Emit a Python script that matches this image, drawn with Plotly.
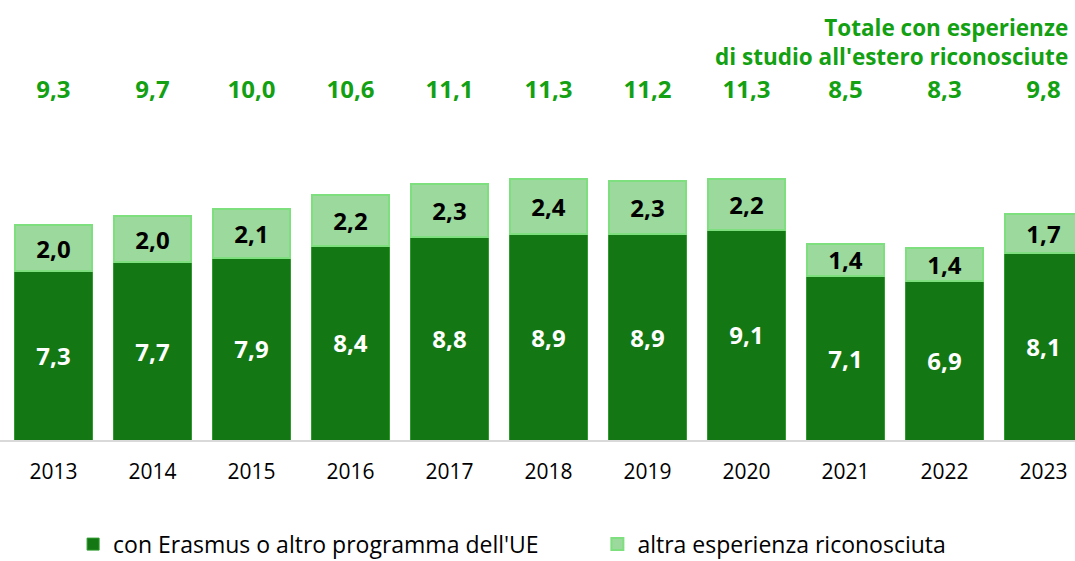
import plotly.graph_objects as go

years = ["2013", "2014", "2015", "2016", "2017", "2018", "2019", "2020", "2021", "2022", "2023"]
erasmus = [7.3, 7.7, 7.9, 8.4, 8.8, 8.9, 8.9, 9.1, 7.1, 6.9, 8.1]
altra = [2.0, 2.0, 2.1, 2.2, 2.3, 2.4, 2.3, 2.2, 1.4, 1.4, 1.7]
totale = [9.3, 9.7, 10.0, 10.6, 11.1, 11.3, 11.2, 11.3, 8.5, 8.3, 9.8]
legend_names = ["con Erasmus o altro programma dell'UE", "altra esperienza riconosciuta"]

FONT = "Open Sans"
GREEN_TXT = "#13a013"
PAD = "\u00a0" * 9

fig = go.Figure()
fig.add_trace(go.Bar(
    x=years, y=erasmus, name=legend_names[0] + PAD,
    marker=dict(color="#137813", line=dict(color="#2e9a2e", width=1)),
    texttemplate="%{y:.1f}", textposition="inside", insidetextanchor="middle",
    textfont=dict(family=FONT, size=24, color="white", weight="bold"),
    width=0.78, hoverinfo="skip",
))
fig.add_trace(go.Bar(
    x=years, y=altra, name=legend_names[1],
    marker=dict(color="#9cd99c", line=dict(color="#7ddf7d", width=2)),
    texttemplate="%{y:.1f}", textposition="inside", insidetextanchor="middle",
    textfont=dict(family=FONT, size=24, color="black", weight="bold"),
    width=0.78, hoverinfo="skip",
))
fig.add_trace(go.Scatter(
    x=years, y=[15.05] * len(years), mode="text",
    text=[f"{v:.1f}".replace(".", ",") for v in totale],
    textfont=dict(family=FONT, size=24, color=GREEN_TXT, weight="bold"),
    showlegend=False, hoverinfo="skip",
))

fig.add_annotation(
    x=1.0, y=1.0, xref="paper", yref="paper", xanchor="right", yanchor="top",
    text="Totale con esperienze<br>di studio all'estero riconosciute",
    showarrow=False, align="right",
    font=dict(family=FONT, size=22.5, color=GREEN_TXT, weight="bold"),
    xshift=-5, yshift=-10,
)

fig.update_layout(
    width=1075, height=561,
    margin=dict(l=0, r=0, t=0, b=121, autoexpand=False),
    barmode="stack",
    separators=",.",
    plot_bgcolor="white", paper_bgcolor="white",
    font=dict(family=FONT, size=21, color="black"),
    uniformtext=dict(mode="show", minsize=24),
    xaxis=dict(range=[-0.54, 10.318], showline=True, linecolor="#d9d9d9", linewidth=2,
               showgrid=False, ticks="", tickfont=dict(size=21), ticklabelstandoff=12,
               automargin=False),
    yaxis=dict(range=[0, 19.05], visible=False),
    legend=dict(orientation="h", x=0.068, y=0.03, yref="container",
                xanchor="left", yanchor="middle",
                font=dict(size=23), traceorder="normal"),
    showlegend=True,
)

fig.write_html(
    "out.html",
    config={"displayModeBar": False},
    post_script="document.body.style.margin='0';document.body.style.overflow='hidden';",
)
